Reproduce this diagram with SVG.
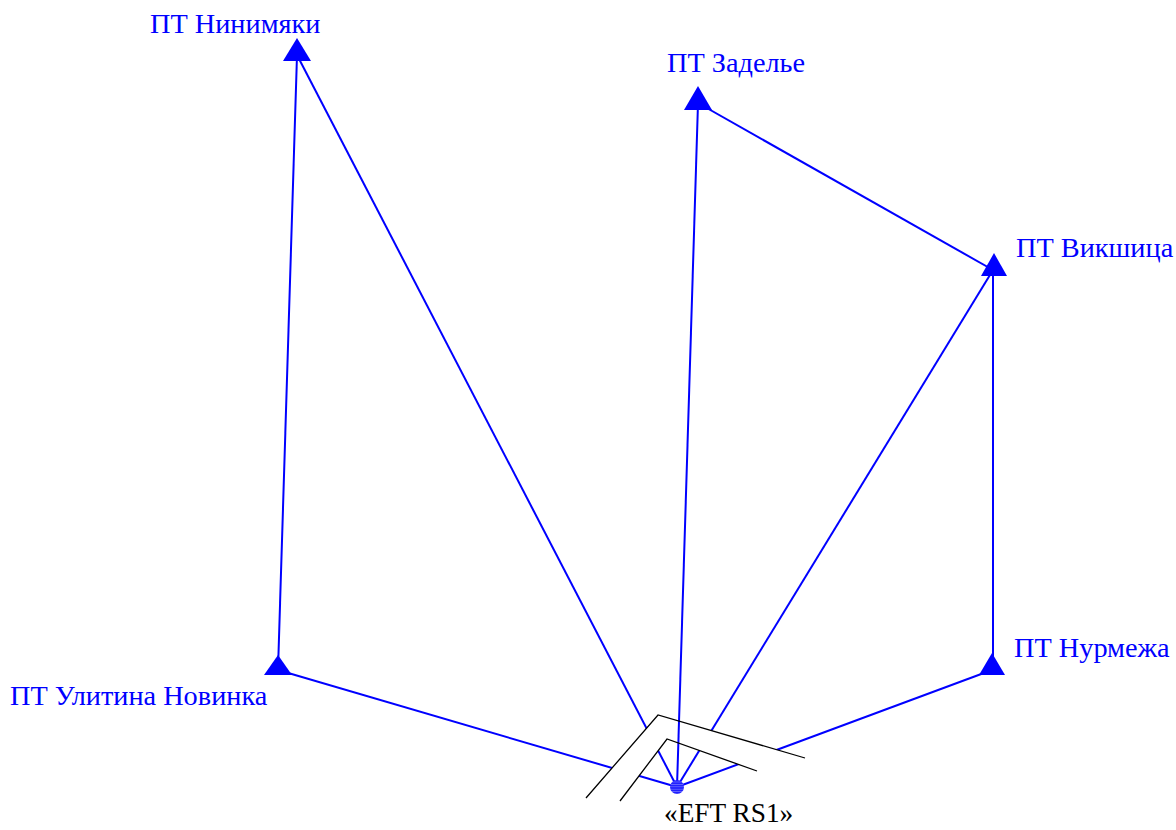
<svg xmlns="http://www.w3.org/2000/svg" width="1176" height="830" viewBox="0 0 1176 830">
<style>
.ln{stroke:#0000ff;stroke-width:2;fill:none}
.tri{fill:#0000ff}
.lbl{font-family:"Liberation Serif","Times New Roman",serif;font-size:28.3px;fill:#0000ff}
.blk{font-family:"Liberation Serif","Times New Roman",serif;font-size:27.3px;fill:#000000}
.pipe{stroke:#000000;stroke-width:1.3;fill:none}
</style>
<defs>
<pattern id="hatch" width="4" height="2.4" patternUnits="userSpaceOnUse">
<rect width="4" height="2.4" fill="#2020ff"/>
<rect y="1.6" width="4" height="0.8" fill="#6a6aff"/>
</pattern>
</defs>
<rect width="1176" height="830" fill="#ffffff"/>
<g id="connectors">
<line class="ln" x1="297" y1="55" x2="278" y2="670"/>
<line class="ln" x1="297" y1="55" x2="677" y2="787"/>
<line class="ln" x1="698" y1="103" x2="993" y2="270"/>
<line class="ln" x1="993" y1="270" x2="993" y2="670"/>
<line class="ln" x1="993" y1="270" x2="677" y2="787"/>
<line class="ln" x1="278" y1="670" x2="677" y2="787"/>
<line class="ln" x1="992" y1="670" x2="677" y2="787"/>
</g>
<g id="pipe">
<polygon points="586,798 658,715 805,758 757,771 667,739 620,801" fill="#ffffff"/>
<line class="ln" x1="698" y1="103" x2="677" y2="787"/>
<polyline class="pipe" points="586,798 658,715 805,758"/>
<polyline class="pipe" points="620,801 667,739 757,771"/>
</g>
<g id="n-ninimyaki">
<polygon class="tri" points="297,38 283,61 311,61"/>
<text class="lbl" x="150" y="33">ПТ Нинимяки</text>
</g>
<g id="n-zadelye">
<polygon class="tri" points="698,86 684,110 712,110"/>
<text class="lbl" x="667" y="72">ПТ Заделье</text>
</g>
<g id="n-vikshica">
<polygon class="tri" points="994,253 981,276 1007,276"/>
<text class="lbl" x="1016" y="257">ПТ Викшица</text>
</g>
<g id="n-nurmezha">
<polygon class="tri" points="992,653 979,675 1005,675"/>
<text class="lbl" x="1014" y="657">ПТ Нурмежа</text>
</g>
<g id="n-ulitina">
<polygon class="tri" points="278,655 264,675 292,675"/>
<text class="lbl" x="10" y="705">ПТ Улитина Новинка</text>
</g>
<g id="n-eft">
<circle cx="677" cy="787" r="7" fill="url(#hatch)"/>
<text class="blk" x="664" y="822">«EFT RS1»</text>
</g>
</svg>
